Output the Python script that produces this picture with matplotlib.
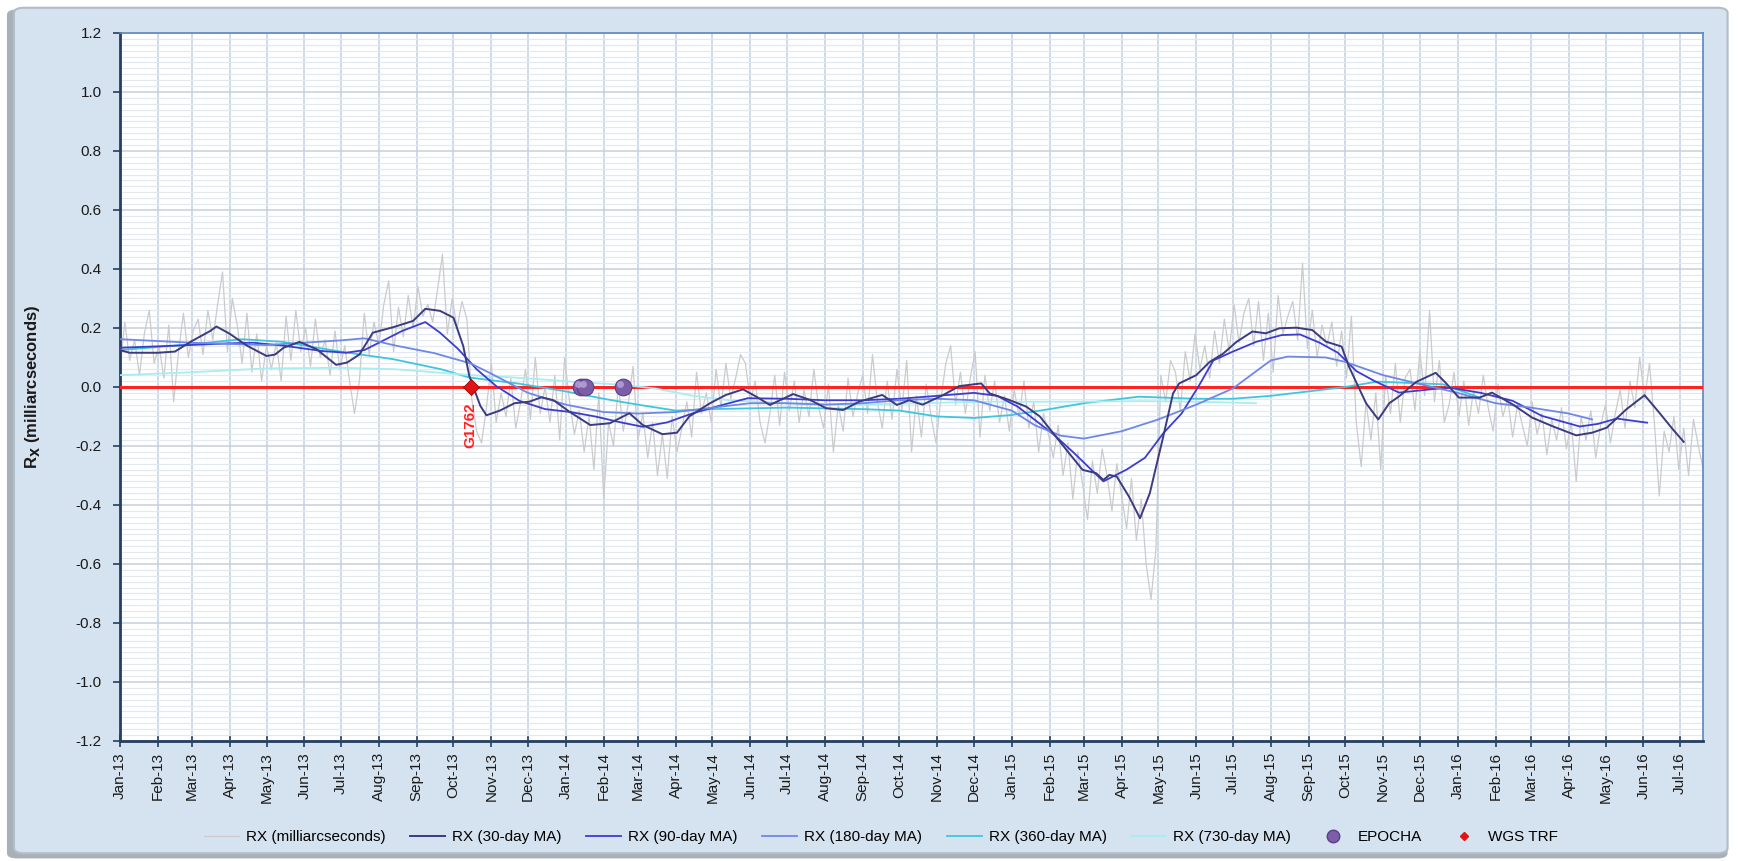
import matplotlib
matplotlib.use('agg')
import matplotlib.pyplot as plt
import matplotlib.dates as mdates
import matplotlib.transforms as mtransforms
from matplotlib.patches import FancyBboxPatch
from matplotlib.ticker import MultipleLocator, FormatStrFormatter
from matplotlib.lines import Line2D
import pandas as pd

plt.rcParams['font.family'] = ['Liberation Sans', 'DejaVu Sans']
plt.rcParams['axes.unicode_minus'] = False

# raw daily-ish RX series, read every 4 days from 2013-01-01
raw_start = '2013-01-01'
rx_raw = [
    0.06, 0.22, 0.09, 0.16, 0.04, 0.18, 0.26, 0.08,
    0.14, 0.03, 0.21, -0.05, 0.12, 0.25, 0.10, 0.19,
    0.23, 0.11, 0.26, 0.16, 0.28, 0.39, 0.12, 0.30,
    0.21, 0.08, 0.25, 0.05, 0.18, 0.02, 0.14, 0.06,
    0.15, 0.02, 0.24, 0.09, 0.26, 0.12, 0.20, 0.07,
    0.23, 0.10, 0.16, 0.04, 0.19, 0.06, 0.14, 0.02,
    -0.09, 0.02, 0.25, 0.11, 0.22, 0.14, 0.28, 0.36,
    0.12, 0.27, 0.17, 0.31, 0.20, 0.34, 0.24, 0.28,
    0.22, 0.33, 0.45, 0.18, 0.30, 0.20, 0.29, 0.23,
    -0.04, -0.15, -0.19, -0.07, 0.08, -0.12, -0.02, -0.10,
    0.03, -0.14, -0.05, 0.06, -0.11, 0.10, -0.09, 0.00,
    -0.12, 0.04, -0.18, 0.10, -0.05, -0.16, -0.08, -0.22,
    -0.10, -0.28, -0.02, -0.38, -0.12, -0.20, 0.01, -0.15,
    -0.06, 0.07, -0.18, -0.09, -0.24, -0.12, -0.30, -0.16,
    -0.31, -0.10, -0.22, -0.14, -0.05, -0.17, 0.05, -0.09,
    -0.02, -0.12, 0.06, -0.07, 0.08, -0.04, 0.03, 0.11,
    0.08, -0.05, 0.02, -0.12, -0.19, -0.09, 0.04, -0.13,
    0.05, -0.08, 0.02, -0.12, -0.01, -0.10, 0.06, -0.07,
    -0.14, 0.01, -0.22, -0.06, -0.15, 0.03, -0.10, -0.02,
    0.04, -0.09, 0.11, -0.05, -0.14, 0.02, -0.11, 0.06,
    -0.08, 0.09, -0.22, -0.03, -0.17, 0.01, -0.10, -0.19,
    -0.04, 0.08, 0.14, -0.06, 0.05, -0.09, 0.03, 0.12,
    -0.17, 0.04, -0.08, 0.02, -0.12, -0.03, -0.15, -0.01,
    -0.10, 0.02, -0.14, -0.05, -0.22, -0.09, -0.16, -0.24,
    -0.13, -0.30, -0.19, -0.38, -0.22, -0.33, -0.45, -0.25,
    -0.36, -0.21, -0.30, -0.42, -0.26, -0.37, -0.48, -0.31,
    -0.52, -0.38, -0.60, -0.72, -0.55, 0.04, -0.05, 0.09,
    0.05, -0.08, 0.12, 0.02, 0.18, 0.06, 0.14, 0.03,
    0.19, 0.08, 0.23, 0.12, 0.28, 0.15, 0.25, 0.30,
    0.14, 0.29, 0.09, 0.25, 0.05, 0.31, 0.18, 0.24,
    0.29, 0.16, 0.42, 0.13, 0.26, 0.10, 0.21, 0.14,
    0.22, 0.07, 0.19, 0.03, 0.24, -0.12, -0.27, -0.05,
    -0.18, -0.02, -0.28, 0.04, -0.09, 0.08, -0.12, 0.03,
    0.06, -0.08, 0.12, -0.03, 0.26, -0.05, 0.09, -0.12,
    -0.06, 0.05, -0.10, 0.02, -0.13, -0.01, -0.09, 0.04,
    -0.07, -0.15, 0.01, -0.10, -0.04, -0.17, -0.06, -0.13,
    -0.20, -0.05, -0.16, -0.09, -0.23, -0.11, -0.18, -0.07,
    -0.21, -0.12, -0.32, -0.10, -0.18, -0.08, -0.24, -0.13,
    -0.06, -0.19, -0.09, -0.01, -0.14, 0.02, -0.07, 0.10,
    -0.04, 0.08, -0.12, -0.37, -0.15, -0.22, -0.10, -0.28,
    -0.14, -0.30, -0.11, -0.20, -0.28,
]

ma30_dates = [
    '2013-01-01', '2013-01-09', '2013-02-01', '2013-02-15', '2013-03-01', '2013-03-16',
    '2013-03-21', '2013-04-01', '2013-04-15', '2013-05-01', '2013-05-08', '2013-05-15',
    '2013-05-28', '2013-06-11', '2013-06-27', '2013-07-06', '2013-07-16', '2013-07-27',
    '2013-08-13', '2013-08-29', '2013-09-08', '2013-09-20', '2013-10-01', '2013-10-09',
    '2013-10-14', '2013-10-23', '2013-10-28', '2013-11-08', '2013-11-20', '2013-12-02',
    '2013-12-12', '2013-12-22', '2014-01-04', '2014-01-21', '2014-02-06', '2014-02-22',
    '2014-03-05', '2014-03-21', '2014-04-02', '2014-04-12', '2014-04-29', '2014-05-12',
    '2014-05-26', '2014-06-06', '2014-06-17', '2014-07-06', '2014-07-20', '2014-08-02',
    '2014-08-16', '2014-08-29', '2014-09-17', '2014-09-29', '2014-10-09', '2014-10-20',
    '2014-11-06', '2014-11-19', '2014-12-07', '2014-12-14', '2014-12-30', '2015-01-13',
    '2015-01-24', '2015-02-04', '2015-02-17', '2015-02-28', '2015-03-11', '2015-03-17',
    '2015-03-22', '2015-03-28', '2015-04-07', '2015-04-16', '2015-04-24', '2015-05-05',
    '2015-05-13', '2015-05-18', '2015-06-01', '2015-06-12', '2015-06-23', '2015-07-04',
    '2015-07-17', '2015-07-28', '2015-08-08', '2015-08-22', '2015-09-04', '2015-09-15',
    '2015-09-28', '2015-10-04', '2015-10-18', '2015-10-28', '2015-11-06', '2015-11-14',
    '2015-11-28', '2015-12-14', '2015-12-22', '2016-01-02', '2016-01-19', '2016-01-29',
    '2016-02-15', '2016-03-02', '2016-03-18', '2016-04-07', '2016-04-20', '2016-05-02',
    '2016-05-18', '2016-06-02', '2016-06-14', '2016-06-25', '2016-07-04',
]
ma30 = [
    0.125, 0.116, 0.116, 0.120, 0.156, 0.190,
    0.205, 0.180, 0.140, 0.105, 0.110, 0.133,
    0.153, 0.128, 0.075, 0.083, 0.110, 0.184,
    0.203, 0.224, 0.265, 0.258, 0.235, 0.139,
    0.037, -0.064, -0.096, -0.080, -0.055, -0.050,
    -0.035, -0.045, -0.084, -0.129, -0.123, -0.089,
    -0.129, -0.160, -0.155, -0.100, -0.055, -0.027,
    -0.008, -0.033, -0.061, -0.024, -0.044, -0.072,
    -0.078, -0.050, -0.027, -0.061, -0.045, -0.060,
    -0.027, 0.003, 0.012, -0.022, -0.044, -0.067,
    -0.100, -0.157, -0.225, -0.281, -0.292, -0.315,
    -0.298, -0.304, -0.372, -0.445, -0.360, -0.168,
    -0.022, 0.012, 0.040, 0.085, 0.113, 0.153,
    0.188, 0.182, 0.199, 0.201, 0.193, 0.154,
    0.137, 0.069, -0.055, -0.110, -0.055, -0.032,
    0.017, 0.048, 0.015, -0.036, -0.036, -0.019,
    -0.059, -0.104, -0.132, -0.164, -0.155, -0.138,
    -0.076, -0.028, -0.087, -0.143, -0.186,
]

ma90_dates = [
    '2013-01-01', '2013-02-15', '2013-04-01', '2013-04-20', '2013-05-15', '2013-06-15',
    '2013-07-05', '2013-07-20', '2013-08-01', '2013-08-20', '2013-09-08', '2013-09-20',
    '2013-10-05', '2013-10-20', '2013-11-05', '2013-11-24', '2013-12-15', '2014-01-05',
    '2014-01-25', '2014-02-15', '2014-03-05', '2014-03-25', '2014-04-15', '2014-05-10',
    '2014-05-30', '2014-07-01', '2014-08-01', '2014-09-01', '2014-10-01', '2014-11-01',
    '2014-12-01', '2014-12-20', '2015-01-06', '2015-02-04', '2015-02-20', '2015-03-17',
    '2015-04-05', '2015-04-20', '2015-05-05', '2015-05-20', '2015-06-03', '2015-06-15',
    '2015-07-01', '2015-07-20', '2015-08-10', '2015-08-25', '2015-09-10', '2015-09-25',
    '2015-10-10', '2015-10-25', '2015-11-14', '2015-12-10', '2015-12-25', '2016-01-20',
    '2016-02-15', '2016-03-10', '2016-04-10', '2016-04-25', '2016-05-10', '2016-06-04',
]
ma90 = [
    0.133, 0.140, 0.148, 0.150, 0.140, 0.122,
    0.116, 0.125, 0.150, 0.190, 0.220, 0.184,
    0.128, 0.060, 0.003, -0.047, -0.075, -0.085,
    -0.100, -0.120, -0.135, -0.120, -0.089, -0.060,
    -0.038, -0.040, -0.045, -0.045, -0.040, -0.030,
    -0.020, -0.030, -0.067, -0.160, -0.220, -0.320,
    -0.280, -0.240, -0.157, -0.090, 0.003, 0.090,
    0.120, 0.153, 0.176, 0.178, 0.150, 0.116,
    0.054, 0.020, -0.019, -0.008, -0.002, -0.020,
    -0.047, -0.098, -0.134, -0.125, -0.107, -0.121,
]

ma180_dates = [
    '2013-01-01', '2013-03-01', '2013-05-01', '2013-07-01', '2013-07-20', '2013-08-15',
    '2013-09-15', '2013-10-15', '2013-11-01', '2013-12-01', '2014-01-01', '2014-02-01',
    '2014-03-01', '2014-04-01', '2014-05-01', '2014-06-01', '2014-07-01', '2014-08-01',
    '2014-09-01', '2014-10-01', '2014-11-01', '2014-12-01', '2015-01-01', '2015-01-20',
    '2015-02-10', '2015-03-01', '2015-04-01', '2015-05-01', '2015-06-01', '2015-07-01',
    '2015-08-01', '2015-08-15', '2015-09-15', '2015-10-01', '2015-11-01', '2015-12-01',
    '2016-01-01', '2016-02-01', '2016-03-01', '2016-04-01', '2016-04-20',
]
ma180 = [
    0.162, 0.150, 0.142, 0.158, 0.165, 0.140,
    0.115, 0.080, 0.045, -0.020, -0.060, -0.085,
    -0.090, -0.085, -0.070, -0.055, -0.055, -0.060,
    -0.055, -0.045, -0.040, -0.045, -0.080, -0.130,
    -0.165, -0.175, -0.150, -0.110, -0.060, -0.005,
    0.090, 0.103, 0.100, 0.085, 0.040, 0.010,
    -0.020, -0.055, -0.070, -0.090, -0.110,
]

ma360_dates = [
    '2013-01-01', '2013-03-01', '2013-04-11', '2013-05-14', '2013-07-02', '2013-08-13',
    '2013-09-21', '2013-10-14', '2013-11-24', '2014-01-01', '2014-02-01', '2014-03-01',
    '2014-04-01', '2014-05-01', '2014-07-01', '2014-09-01', '2014-10-01', '2014-11-01',
    '2014-12-01', '2015-01-01', '2015-02-01', '2015-03-01', '2015-04-15', '2015-06-01',
    '2015-07-01', '2015-08-01', '2015-09-01', '2015-10-01', '2015-10-27', '2015-12-20',
    '2016-01-19',
]
ma360 = [
    0.125, 0.145, 0.162, 0.153, 0.119, 0.094,
    0.060, 0.032, 0.011, -0.015, -0.040, -0.060,
    -0.080, -0.075, -0.070, -0.075, -0.080, -0.100,
    -0.105, -0.095, -0.075, -0.055, -0.033, -0.040,
    -0.040, -0.030, -0.015, 0.000, 0.018, 0.009,
    -0.036,
]

ma730_dates = [
    '2013-01-01', '2013-03-01', '2013-05-01', '2013-07-01', '2013-08-15', '2013-09-15',
    '2013-10-15', '2013-11-16', '2013-12-15', '2014-01-15', '2014-02-15', '2014-03-15',
    '2014-04-15', '2014-05-15', '2014-07-01', '2014-09-01', '2014-10-15', '2014-12-15',
    '2015-02-15', '2015-04-15', '2015-06-01', '2015-07-20',
]
ma730 = [
    0.040, 0.050, 0.063, 0.065, 0.060, 0.050,
    0.040, 0.033, 0.025, 0.015, 0.008, -0.005,
    -0.030, -0.045, -0.055, -0.060, -0.055, -0.050,
    -0.050, -0.048, -0.050, -0.055,
]

epocha_dates = ['2014-01-13', '2014-01-17', '2014-02-17']
epocha_vals = [0.0, 0.0, 0.0]
wgs_dates = ['2013-10-15']
wgs_vals = [0.0]
wgs_labels = ['G1762']

x_start, x_end = '2013-01-01', '2016-07-20'

fig = plt.figure(figsize=(17.38, 8.61), dpi=100)
fig.patch.set_facecolor('white')
# excel-like chart area with a soft shadow
shadow = FancyBboxPatch((0.004, 0.003), 0.990, 0.986, boxstyle='round,pad=0,rounding_size=0.006',
                        transform=fig.transFigure, facecolor='#a8b0b8', edgecolor='none', zorder=-3)
frame = FancyBboxPatch((0.008, 0.009), 0.986, 0.982, boxstyle='round,pad=0,rounding_size=0.006',
                       transform=fig.transFigure, facecolor='#d5e2ef', edgecolor='#b4bcc4',
                       lw=1.5, zorder=-2)
fig.patches.extend([shadow, frame])

ax = fig.add_axes([0.069, 0.1394, 0.911, 0.8223])
ax.set_facecolor('white')

raw_dates = pd.date_range(raw_start, periods=len(rx_raw), freq='4D')
ax.plot(raw_dates, rx_raw, color='#cbcbcb', lw=0.9, zorder=2, label='RX (milliarcseconds)')
ax.axhline(0, color='#ff2424', lw=2.2, zorder=3)
ax.plot(pd.to_datetime(ma30_dates), ma30, color='#3b3b80', lw=1.4, zorder=6, label='RX (30-day MA)')
ax.plot(pd.to_datetime(ma90_dates), ma90, color='#3c3cd0', lw=1.3, zorder=5, label='RX (90-day MA)')
ax.plot(pd.to_datetime(ma180_dates), ma180, color='#6e88e6', lw=1.3, zorder=5, label='RX (180-day MA)')
ax.plot(pd.to_datetime(ma360_dates), ma360, color='#3ec6de', lw=1.3, zorder=4, label='RX (360-day MA)')
ax.plot(pd.to_datetime(ma730_dates), ma730, color='#a8ecf4', lw=1.3, zorder=4, label='RX (730-day MA)')

# purple spheres: dark body plus a light highlight shifted up-left
ep_x = pd.to_datetime(epocha_dates)
ax.plot(ep_x, epocha_vals, ls='none', marker='o', ms=12,
        color='#7c5ea8', mec='#5a3f86', mew=0.8, zorder=8)
hl = ax.transData + mtransforms.ScaledTranslation(-2 / 72, 2 / 72, fig.dpi_scale_trans)
ax.plot(ep_x, epocha_vals, ls='none', marker='o', ms=5, color='#b9a6d8',
        mec='none', alpha=0.8, transform=hl, zorder=9)
ax.plot(pd.to_datetime(wgs_dates), wgs_vals, ls='none', marker='D', ms=8,
        color='#e01414', mec='#a00000', mew=0.6, zorder=8)
for d, v, t in zip(wgs_dates, wgs_vals, wgs_labels):
    ax.annotate(t, xy=(pd.Timestamp(d), v), xytext=(0, -11), textcoords='offset points',
                rotation=90, ha='center', va='top', color='#ff2020', fontweight='bold',
                fontsize=11, zorder=9)

ax.set_ylim(-1.2, 1.2)
ax.set_xlim(pd.Timestamp(x_start), pd.Timestamp(x_end))
ax.yaxis.set_major_locator(MultipleLocator(0.2))
ax.yaxis.set_minor_locator(MultipleLocator(0.02))
ax.yaxis.set_major_formatter(FormatStrFormatter('%.1f'))
ax.xaxis.set_major_locator(mdates.MonthLocator())
ax.xaxis.set_major_formatter(mdates.DateFormatter('%b-%y'))

ax.grid(which='minor', axis='y', color='#e3e9f1', lw=0.9, zorder=0)
ax.grid(which='major', axis='y', color='#c6cfdc', lw=1.1, zorder=0)
ax.grid(which='major', axis='x', color='#c2cfe2', lw=1.1, zorder=0)
ax.set_axisbelow(True)

ax.tick_params(axis='y', which='major', direction='out', length=5, width=1.2,
               color='#243f60', labelsize=11, labelcolor='#1a1a1a', pad=8)
ax.tick_params(axis='y', which='minor', length=0)
ax.tick_params(axis='x', which='major', direction='inout', length=8, width=1.2,
               color='#243f60', labelsize=11, labelcolor='#1a1a1a', labelrotation=90, pad=4)

for s in ['left', 'bottom']:
    ax.spines[s].set_color('#243f60')
    ax.spines[s].set_linewidth(2)
for s in ['top', 'right']:
    ax.spines[s].set_color('#5b86c0')
    ax.spines[s].set_linewidth(1.2)

ax.set_ylabel(r'R$_\mathbf{X}$ (milliarcseconds)', fontsize=12, fontweight='bold', color='#1a1a1a')
ax.yaxis.set_label_coords(-0.049, 0.5)

handles, labels = ax.get_legend_handles_labels()
handles += [Line2D([], [], ls='none', marker='o', ms=9, color='#7c5ea8', mec='#5a3f86'),
            Line2D([], [], ls='none', marker='D', ms=4, color='#e01414')]
labels += ['EPOCHA', 'WGS TRF']
fig.legend(handles, labels, loc='center', bbox_to_anchor=(0.507, 0.028), ncol=8,
           frameon=False, fontsize=11, handlelength=2.3, columnspacing=1.6, handletextpad=0.45)

fig.savefig('out.png', dpi=100, facecolor=fig.get_facecolor())
